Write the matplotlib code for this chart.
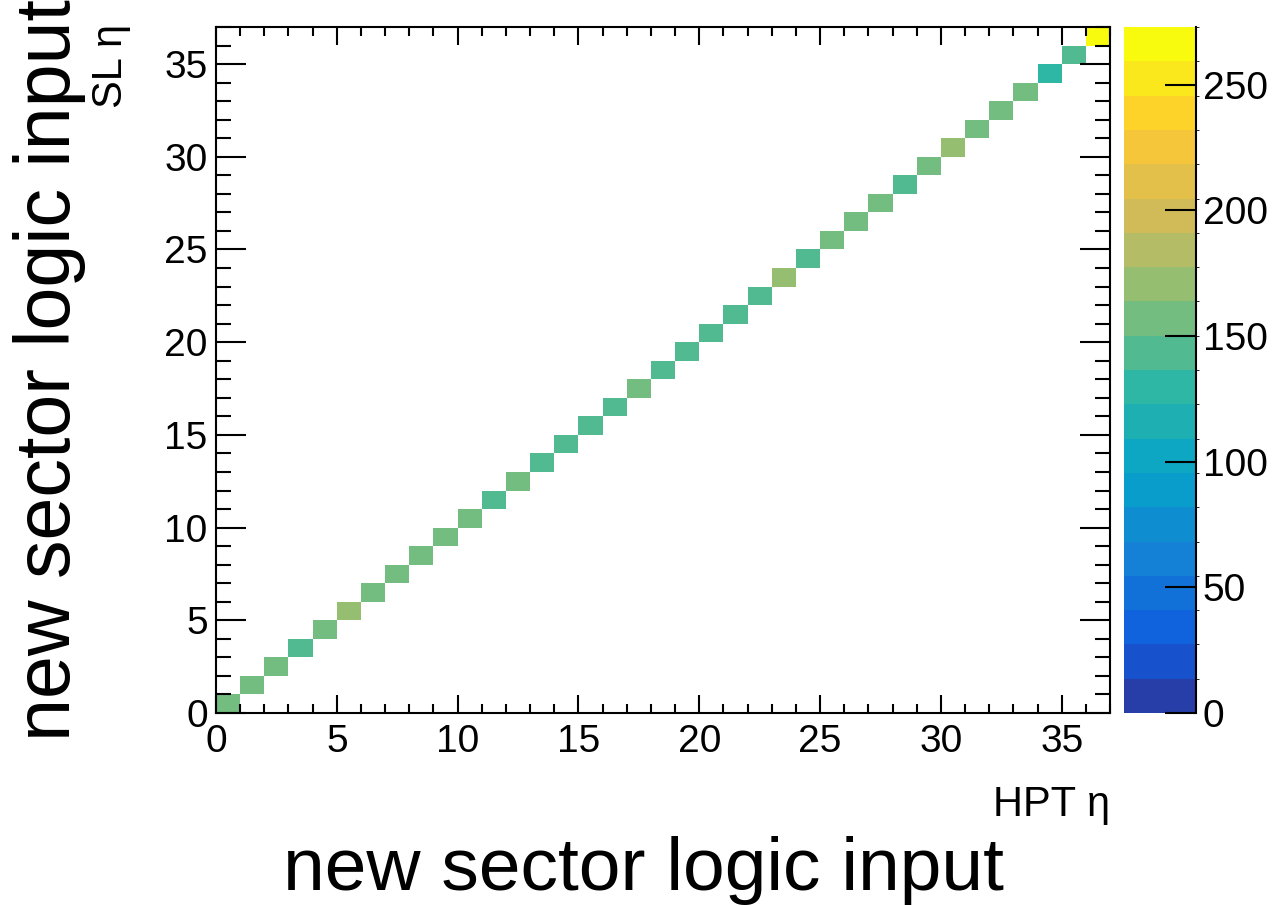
import numpy as np
import matplotlib
matplotlib.use("Agg")
from matplotlib import pyplot as plt
from matplotlib.colors import LinearSegmentedColormap, ListedColormap, BoundaryNorm
from matplotlib.ticker import MultipleLocator

# diagonal bin contents, HPT eta bin i == SL eta bin i
eta_bins = list(range(37))
diag_counts = [157, 158, 156, 143, 157, 170, 156, 157, 158, 156,
               157, 144, 156, 143, 144, 143, 144, 157, 143, 144,
               143, 144, 143, 170, 144, 157, 156, 157, 143, 157,
               170, 156, 157, 158, 130, 144, 273]
cbar_ticks = [0, 50, 100, 150, 200, 250]

plt.rcParams['font.family'] = ['Liberation Sans', 'DejaVu Sans']

# ROOT kBird palette, 20 contour levels
stops = [0.0, 0.125, 0.25, 0.375, 0.5, 0.625, 0.75, 0.875, 1.0]
red = [0.2082, 0.0592, 0.0780, 0.0232, 0.1802, 0.5301, 0.8186, 0.9956, 0.9764]
green = [0.1664, 0.3599, 0.5041, 0.6419, 0.7178, 0.7492, 0.7328, 0.7862, 0.9832]
blue = [0.5293, 0.8684, 0.8385, 0.7914, 0.6425, 0.4662, 0.3499, 0.1968, 0.0539]
bird = LinearSegmentedColormap.from_list(
    "bird", list(zip(stops, zip(red, green, blue))), N=255)
nlev = 20
level_colors = [bird(min(int((i + 0.99) * 255 / nlev), 254)) for i in range(nlev)]
cmap = ListedColormap(level_colors)

n = len(eta_bins)
H = np.zeros((n, n))
for i, c in zip(eta_bins, diag_counts):
    H[i, i] = c
H = np.ma.masked_equal(H, 0)
edges = np.arange(n + 1)
zmax = max(diag_counts)
norm = BoundaryNorm(np.linspace(0, zmax, nlev + 1), nlev)

W, Hp = 1277, 905
fig = plt.figure(figsize=(W / 100, Hp / 100), dpi=100)
ax = fig.add_axes([216 / W, 1 - 713 / Hp, 894 / W, 686 / Hp])
mesh = ax.pcolormesh(edges, edges, H, cmap=cmap, norm=norm)

ax.set_xlim(0, n)
ax.set_ylim(0, n)
ax.xaxis.set_major_locator(MultipleLocator(5))
ax.xaxis.set_minor_locator(MultipleLocator(1))
ax.yaxis.set_major_locator(MultipleLocator(5))
ax.yaxis.set_minor_locator(MultipleLocator(1))
ax.tick_params(axis='both', which='both', direction='in', top=True, right=True,
               width=1.5, labelsize=28)
ax.tick_params(axis='x', which='major', length=13, pad=8)
ax.tick_params(axis='x', which='minor', length=6.5)
ax.tick_params(axis='y', which='major', length=21.6, pad=6)
ax.tick_params(axis='y', which='minor', length=11)
for s in ax.spines.values():
    s.set_linewidth(1.5)

ax.text(1.0, -0.105, "HPT η", transform=ax.transAxes, ha='right', va='top',
        fontsize=30)
fig.text(111 / W, 1 - 24 / Hp, "SL η", rotation=90, ha='center', va='top',
         fontsize=30)

cax = fig.add_axes([1124 / W, 1 - 713 / Hp, 72 / W, 686 / Hp])
cb = fig.colorbar(mesh, cax=cax, ticks=cbar_ticks)
cb.outline.set_visible(False)
cax.tick_params(direction='in', length=22, width=1.5, labelsize=28, pad=5)
cax.plot([1, 1], [0, 1], transform=cax.transAxes, color='black', lw=1.5,
         clip_on=False)

fig.text(643 / W, 1 - 890 / Hp, "new sector logic input", ha='center',
         va='baseline', fontsize=54)
fig.text(70 / W, 1 - 370 / Hp, "new sector logic input", rotation=90,
         rotation_mode='anchor', ha='center', va='baseline', fontsize=55.5)

fig.savefig("out.png", dpi=100)
